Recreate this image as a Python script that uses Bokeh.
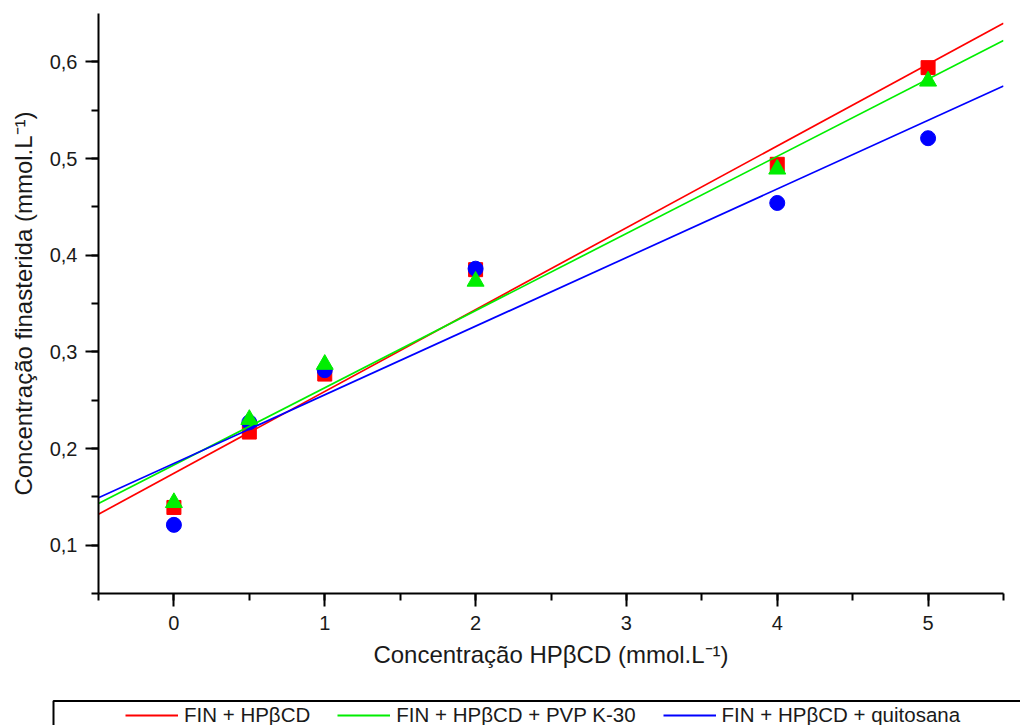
from bokeh.plotting import figure
from bokeh.layouts import column
from bokeh.models import (Range1d, SingleIntervalTicker, CustomJSTickFormatter,
                          Legend, LegendItem)
from bokeh.embed import file_html
from bokeh.resources import INLINE

# concentracao HPbCD (mmol/L)
conc = [0, 0.5, 1, 2, 4, 5]

# concentracao finasterida (mmol/L)
fin_hp = [0.139, 0.217, 0.277, 0.385, 0.494, 0.594]
fin_hp_pvp = [0.144, 0.230, 0.287, 0.373, 0.489, 0.580]
fin_hp_quit = [0.121, 0.227, 0.281, 0.386, 0.454, 0.521]

# linear fits, read at the ends of the x range
fit_x = [-0.5, 5.5]
fit_hp = [0.132, 0.640]
fit_hp_pvp = [0.143, 0.622]
fit_hp_quit = [0.149, 0.575]

labels = ["FIN + HPβCD", "FIN + HPβCD + PVP K-30", "FIN + HPβCD + quitosana"]
colors = ["#ff0000", "#00ee00", "#0000ff"]

FONT = "Liberation Sans"
W = 1020

p = figure(width=W, height=698,
           output_backend="svg", toolbar_location=None,
           x_range=Range1d(-0.5, 5.5), y_range=Range1d(0.05, 0.65),
           min_border_left=98, min_border_right=17,
           min_border_top=13, min_border_bottom=105)
p.frame_align = False
p.outline_line_color = None
p.grid.visible = False

p.scatter(conc, fin_hp, marker="square", size=14, color=colors[0])
p.scatter(conc, fin_hp_quit, marker="circle", size=15, color=colors[2])
p.scatter(conc, fin_hp_pvp, marker="triangle", size=17, color=colors[1])

p.line(fit_x, fit_hp, line_color=colors[0], line_width=1.7)
p.line(fit_x, fit_hp_pvp, line_color=colors[1], line_width=1.7)
p.line(fit_x, fit_hp_quit, line_color=colors[2], line_width=1.7)

p.xaxis.ticker = SingleIntervalTicker(interval=1, num_minor_ticks=2)
p.yaxis.ticker = SingleIntervalTicker(interval=0.1, num_minor_ticks=2)
p.yaxis.formatter = CustomJSTickFormatter(
    code="return tick.toFixed(1).replace('.', ',');")

p.xaxis.axis_label = "Concentração HPβCD (mmol.L⁻¹)"
p.yaxis.axis_label = "Concentração finasterida (mmol.L⁻¹)"

for ax in (p.xaxis, p.yaxis):
    ax.axis_line_width = 2
    ax.axis_line_color = "black"
    ax.major_tick_line_width = 2
    ax.minor_tick_line_width = 2
    ax.major_tick_line_color = "black"
    ax.minor_tick_line_color = "black"
    ax.major_tick_in = 0
    ax.major_tick_out = 13
    ax.minor_tick_in = 0
    ax.minor_tick_out = 7
    ax.major_label_text_font = FONT
    ax.major_label_text_font_size = "20px"
    ax.major_label_text_color = "#1a1a1a"
    ax.axis_label_text_font = FONT
    ax.axis_label_text_font_size = "24px"
    ax.axis_label_text_font_style = "normal"
    ax.axis_label_text_color = "#1a1a1a"

p.xaxis.major_label_standoff = 9
p.xaxis.axis_label_standoff = 8
p.yaxis.major_label_standoff = 8
p.yaxis.axis_label_standoff = 10

# legend strip below the plot, drawn in pixel units
leg = figure(width=W, height=27, output_backend="svg", toolbar_location=None,
             x_range=Range1d(0, W), y_range=Range1d(0, 27),
             x_axis_location=None, y_axis_location=None,
             min_border=0)
leg.frame_align = False
leg.outline_line_color = None
leg.grid.visible = False
leg.quad(left=[53], right=[W + 50], top=[24.5], bottom=[-20],
         fill_alpha=0, line_color="black", line_width=2)

# swatch renderers sit outside the visible range, only their legend shows
swatches = [leg.line([-20, -10], [-20, -20], line_color=c, line_width=2)
            for c in colors]
legend = Legend(items=[LegendItem(label=lab, renderers=[r])
                       for lab, r in zip(labels, swatches)],
                orientation="horizontal", location=(125, -2),
                padding=0, margin=0, spacing=27,
                glyph_width=53, label_standoff=6,
                label_text_font=FONT, label_text_font_size="20.5px",
                label_text_color="#1a1a1a",
                border_line_color=None, background_fill_alpha=0)
leg.add_layout(legend, "center")

layout = column(p, leg, spacing=0)

open("out.html", "w").write(file_html(layout, INLINE))
